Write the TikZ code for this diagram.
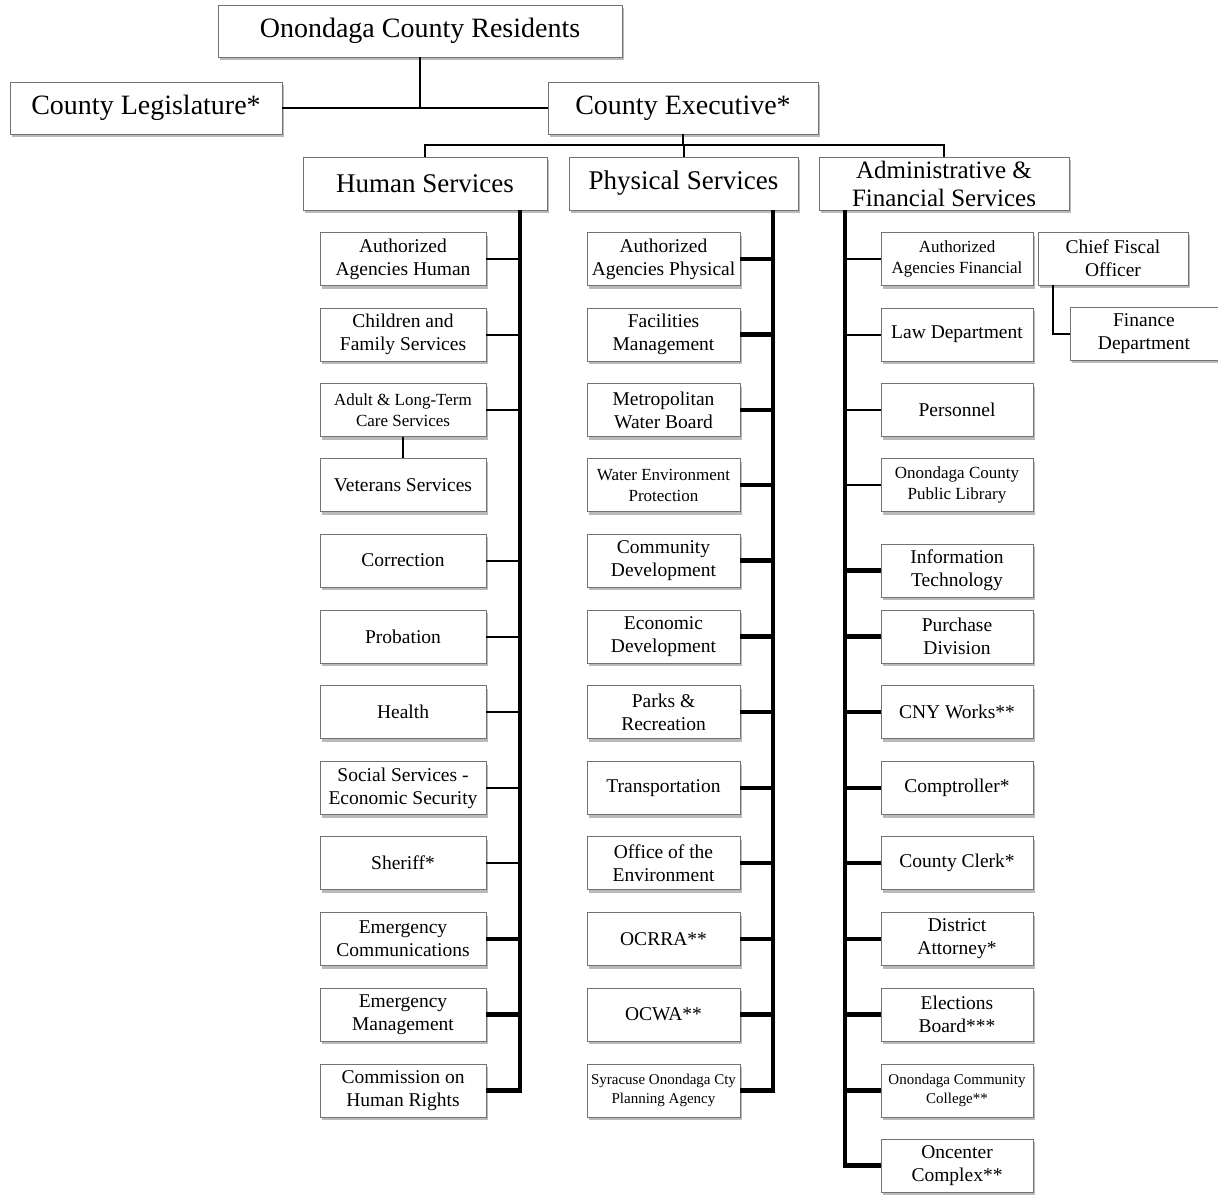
\documentclass[tikz,border=0pt]{standalone}
\usepackage{fontspec}
\setmainfont{Liberation Serif}
\usetikzlibrary{shadows}
\begin{document}
\begin{tikzpicture}[x=1pt,y=-1pt,
 box/.style={draw=black!55, line width=0.9pt, fill=white, align=center, inner sep=0pt,
   drop shadow={shadow xshift=2pt, shadow yshift=-3pt, fill=black!45, opacity=0.6}},
 lvl/.style={box, minimum height=52pt, font=\fontsize{28}{30}\selectfont},
 grp/.style={box, minimum height=53pt, font=\fontsize{27}{29}\selectfont},
 hbox/.style={box, minimum width=166pt, minimum height=53pt, font=\fontsize{19.5}{23}\selectfont},
 pbox/.style={box, minimum width=153pt, minimum height=53pt, font=\fontsize{19.5}{23}\selectfont},
 abox/.style={box, minimum width=152pt, minimum height=53pt, font=\fontsize{19.5}{23}\selectfont},
 small/.style={font=\fontsize{17}{21}\selectfont},
 tiny/.style={font=\fontsize{15}{18.5}\selectfont},
 thinln/.style={line width=2pt},
 thickln/.style={line width=4.5pt, line join=miter},
]
\useasboundingbox (0,0) rectangle (1218,1196);
% top levels
\node[lvl, minimum width=404pt] (res) at (420,31) {Onondaga County Residents};
\node[lvl, minimum width=272pt] (leg) at (146,108) {County Legislature*};
\node[lvl, minimum width=270pt] (exe) at (683,108) {County Executive*};
\node[grp, minimum width=244pt] (hum) at (425,183.5) {Human Services};
\node[grp, minimum width=229pt] (phy) at (683.5,183.5) {Physical Services};
\node[grp, minimum width=250pt, font=\fontsize{25}{28}\selectfont] (adm) at (944,183.5) {Administrative \&\\Financial Services};
\coordinate (bar) at (683,145);
\coordinate (hx) at (520,0);
\coordinate (px) at (773,0);
\coordinate (ax) at (845,0);
\coordinate (cx) at (1053,0);
% Human services
\node[hbox] (h1) at (403,259) {Authorized\\Agencies Human};
\node[hbox] (h2) at (403,334.5) {Children and\\Family Services};
\node[hbox, small] (h3) at (403,410) {Adult \& Long-Term\\Care Services};
\node[hbox] (h4) at (403,485) {Veterans Services};
\node[hbox] (h5) at (403,560.5) {Correction};
\node[hbox] (h6) at (403,636.5) {Probation};
\node[hbox] (h7) at (403,712) {Health};
\node[hbox] (h8) at (403,788) {Social Services -\\Economic Security};
\node[hbox] (h9) at (403,863) {Sheriff*};
\node[hbox] (h10) at (403,939) {Emergency\\Communications};
\node[hbox] (h11) at (403,1014.5) {Emergency\\Management};
\node[hbox] (h12) at (403,1090.5) {Commission on\\Human Rights};
% Physical services
\node[pbox] (p1) at (663.5,259) {Authorized\\Agencies Physical};
\node[pbox] (p2) at (663.5,334.5) {Facilities\\Management};
\node[pbox] (p3) at (663.5,410) {Metropolitan\\Water Board};
\node[pbox, small] (p4) at (663.5,485) {Water Environment\\Protection};
\node[pbox] (p5) at (663.5,560.5) {Community\\Development};
\node[pbox] (p6) at (663.5,636.5) {Economic\\Development};
\node[pbox] (p7) at (663.5,712) {Parks \&\\Recreation};
\node[pbox] (p8) at (663.5,788) {Transportation};
\node[pbox] (p9) at (663.5,863) {Office of the\\Environment};
\node[pbox] (p10) at (663.5,939) {OCRRA**};
\node[pbox] (p11) at (663.5,1014.5) {OCWA**};
\node[pbox, tiny] (p12) at (663.5,1090.5) {Syracuse Onondaga Cty\\Planning Agency};
% Administrative & financial services
\node[abox, small] (a1) at (957,259) {Authorized\\Agencies Financial};
\node[abox] (a2) at (957,334.5) {Law Department};
\node[abox] (a3) at (957,410) {Personnel};
\node[abox, small] (a4) at (957,485) {Onondaga County\\Public Library};
\node[abox] (a5) at (957,570.5) {Information\\Technology};
\node[abox] (a6) at (957,636.5) {Purchase\\Division};
\node[abox] (a7) at (957,712) {CNY Works**};
\node[abox] (a8) at (957,788) {Comptroller*};
\node[abox] (a9) at (957,863) {County Clerk*};
\node[abox] (a10) at (957,939) {District\\Attorney*};
\node[abox] (a11) at (957,1014.5) {Elections\\Board***};
\node[abox, tiny] (a12) at (957,1090.5) {Onondaga Community\\College**};
\node[abox] (a13) at (957,1165.5) {Oncenter\\Complex**};
\node[box, minimum width=150pt, minimum height=53pt, font=\fontsize{19.5}{23}\selectfont] (cfo) at (1113,258.5) {Chief Fiscal\\Officer};
\node[box, minimum width=148pt, minimum height=53pt, font=\fontsize{19.5}{23}\selectfont] (fin) at (1144,333.5) {Finance\\Department};
% connectors
\draw[thinln] (res.south) -- (res.south |- leg.east);
\draw[thinln] (leg.east) -- (exe.west);
\draw[thinln] (exe.south) -- (bar);
\draw[thinln] (hum.north) |- (bar) -| (adm.north);
\draw[thinln] (phy.north) -- (phy.north |- bar);
% human
\draw[thickln] (hum.south -| hx) |- (h12.east);
\foreach \n in {h1,h2,h3,h5,h6,h7,h8,h9} \draw[thinln] (\n.east) -- (\n.east -| hx);
\foreach \n in {h10,h11} \draw[thickln] (\n.east) -- (\n.east -| hx);
\draw[thinln] (h3.south) -- (h4.north);
% physical
\draw[thickln] (phy.south -| px) |- (p12.east);
\foreach \n in {p1,p2,p3,p4,p5,p6,p7,p8,p9,p10,p11} \draw[thickln] (\n.east) -- (\n.east -| px);
% administrative
\draw[thickln] (adm.south -| ax) |- (a13.west);
\foreach \n in {a1,a2,a3,a4} \draw[thinln] (\n.west) -- (\n.west -| ax);
\foreach \n in {a5,a6,a7,a8,a9,a10,a11,a12} \draw[thickln] (\n.west) -- (\n.west -| ax);
\draw[thinln] (cfo.south -| cx) |- (fin.west);
\end{tikzpicture}
\end{document}
